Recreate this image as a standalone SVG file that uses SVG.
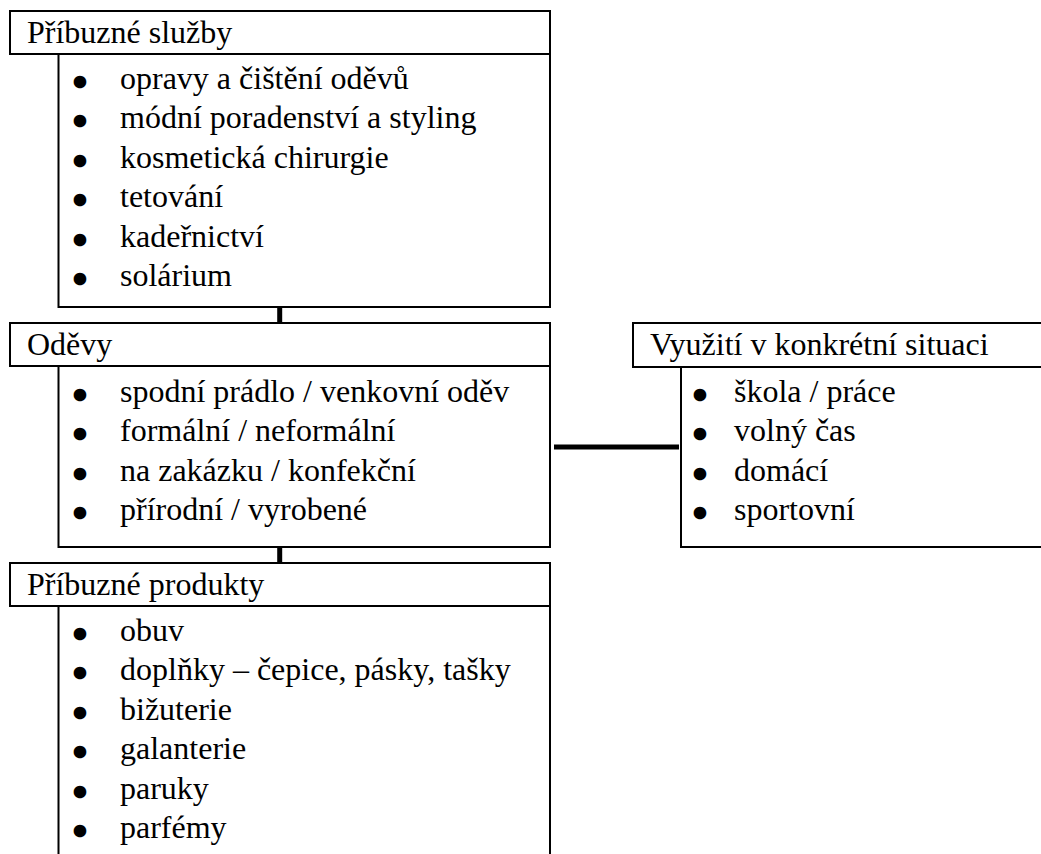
<svg xmlns="http://www.w3.org/2000/svg" width="1041" height="854" viewBox="0 0 1041 854">
<style>
.box{fill:#fff;stroke:#000;stroke-width:2}
.t{font-family:"Liberation Serif","Times New Roman",serif;font-size:32px;fill:#000}
.b{font-family:"Liberation Serif","Times New Roman",serif;font-size:34px;fill:#000;stroke:#000;stroke-width:4.5;stroke-linejoin:round}
.con{stroke:#000;stroke-width:5;fill:none}
</style>
<rect width="1041" height="854" fill="#fff"/>
<g id="connectors">
<line class="con" x1="279.7" y1="303" x2="279.7" y2="327"/>
<line class="con" x1="279.7" y1="543" x2="279.7" y2="566"/>
<line class="con" x1="554" y1="447" x2="679" y2="447"/>
</g>
<g id="pribuzne-sluzby">
<rect class="box" x="58.5" y="54" width="491.5" height="253"/>
<rect class="box" x="10" y="11" width="540" height="43"/>
<text class="t" x="27" y="42.5">Příbuzné služby</text>
<text class="b" x="74" y="93.5">•</text><text class="t" x="120" y="88.5">opravy a čištění oděvů</text>
<text class="b" x="74" y="133">•</text><text class="t" x="120" y="128">módní poradenství a styling</text>
<text class="b" x="74" y="172.5">•</text><text class="t" x="120" y="167.5">kosmetická chirurgie</text>
<text class="b" x="74" y="212">•</text><text class="t" x="120" y="207">tetování</text>
<text class="b" x="74" y="251.5">•</text><text class="t" x="120" y="246.5">kadeřnictví</text>
<text class="b" x="74" y="291">•</text><text class="t" x="120" y="286">solárium</text>
</g>
<g id="odevy">
<rect class="box" x="58.5" y="366" width="491.5" height="181"/>
<rect class="box" x="10" y="323" width="540" height="43"/>
<text class="t" x="27" y="354.5">Oděvy</text>
<text class="b" x="74" y="406.5">•</text><text class="t" x="120" y="401.5">spodní prádlo / venkovní oděv</text>
<text class="b" x="74" y="446">•</text><text class="t" x="120" y="441">formální / neformální</text>
<text class="b" x="74" y="485.5">•</text><text class="t" x="120" y="480.5">na zakázku / konfekční</text>
<text class="b" x="74" y="525">•</text><text class="t" x="120" y="520">přírodní / vyrobené</text>
</g>
<g id="pribuzne-produkty">
<rect class="box" x="58.5" y="606" width="491.5" height="270"/>
<rect class="box" x="10" y="563" width="540" height="43"/>
<text class="t" x="27" y="594.5">Příbuzné produkty</text>
<text class="b" x="74" y="645.5">•</text><text class="t" x="120" y="640.5">obuv</text>
<text class="b" x="74" y="685">•</text><text class="t" x="120" y="680">doplňky – čepice, pásky, tašky</text>
<text class="b" x="74" y="724.5">•</text><text class="t" x="120" y="719.5">bižuterie</text>
<text class="b" x="74" y="764">•</text><text class="t" x="120" y="759">galanterie</text>
<text class="b" x="74" y="803.5">•</text><text class="t" x="120" y="798.5">paruky</text>
<text class="b" x="74" y="843">•</text><text class="t" x="120" y="838">parfémy</text>
</g>
<g id="vyuziti">
<rect class="box" x="681" y="367" width="380" height="180"/>
<rect class="box" x="633" y="323" width="420" height="44"/>
<text class="t" x="650" y="354.5">Využití v konkrétní situaci</text>
<text class="b" x="694" y="406.5">•</text><text class="t" x="734" y="401.5">škola / práce</text>
<text class="b" x="694" y="446">•</text><text class="t" x="734" y="441">volný čas</text>
<text class="b" x="694" y="485.5">•</text><text class="t" x="734" y="480.5">domácí</text>
<text class="b" x="694" y="525">•</text><text class="t" x="734" y="520">sportovní</text>
</g>
</svg>
